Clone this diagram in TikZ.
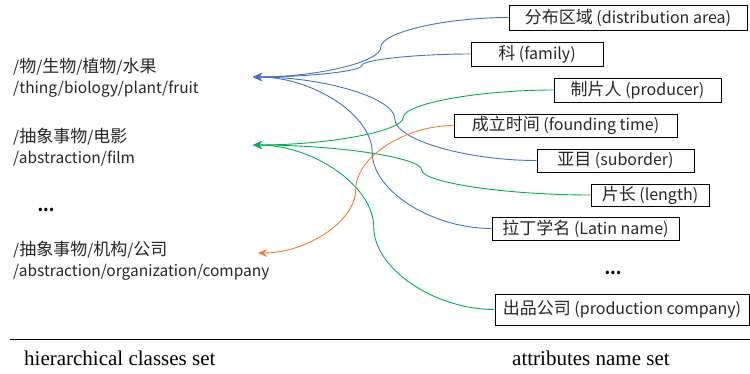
\documentclass[tikz,border=0pt]{standalone}
\usepackage{fontspec}
\newfontfamily\cjk{Noto Sans CJK SC}
\newfontfamily\capfont{Liberation Serif}
\newcommand\zh[1]{{\fontsize{17}{21}\selectfont #1}}
\usetikzlibrary{arrows.meta,calc}
\definecolor{cblue}{HTML}{4472C4}
\definecolor{cgreen}{HTML}{00B050}
\definecolor{corange}{HTML}{ED7D31}
\definecolor{txt}{HTML}{262626}
\begin{document}
\begin{tikzpicture}[x=1pt,y=-1pt,
  lbl/.style={font=\cjk\fontsize{15.5}{21}\selectfont, text=txt, align=left, anchor=west, inner sep=0pt},
  attr/.style={draw=black, line width=0.9pt, font=\cjk\fontsize{16}{18}\selectfont, text=txt, inner sep=0pt},
  dots/.style={font=\cjk\bfseries\fontsize{16}{18}\selectfont, text=black, inner sep=0pt},
  captxt/.style={font=\capfont\fontsize{21}{24}\selectfont, text=black, inner sep=0pt, anchor=base west},
  conn/.style={line width=0.9pt, -{Stealth[length=9pt,width=8pt]},
    to path={let \p1=(\tikztostart), \p2=(\tikztotarget) in
      .. controls ({(3*\x1+\x2)/4},\y1) and ({(\x1+\x2)/2},{(3*\y1+\y2)/4})
      .. ({(\x1+\x2)/2},{(\y1+\y2)/2})
      .. controls ({(\x1+\x2)/2},{(\y1+3*\y2)/4}) and ({(\x1+3*\x2)/4},\y2)
      .. (\tikztotarget) \tikztonodes}},
]
\useasboundingbox (0,0) rectangle (750,373);

% left classes
\node[lbl] (c1) at (13,78) {/\zh{物}/\zh{生物}/\zh{植物}/\zh{水果}\\/thing/biology/plant/fruit};
\node[lbl] (c2) at (13,147) {/\zh{抽象事物}/\zh{电影}\\/abstraction/film};
\node[dots] (d1) at (46,210) {...};
\node[lbl] (c3) at (13,261) {/\zh{抽象事物}/\zh{机构}/\zh{公司}\\/abstraction/organization/company};

\coordinate (tA) at (253,77);
\coordinate (tB) at (253,145);
\coordinate (tC) at (258,253);

% attribute boxes
\node[attr, minimum width=238pt, minimum height=25pt] (b1) at (628,17.5) {\zh{分布区域} (distribution area)};
\node[attr, minimum width=132pt, minimum height=24pt] (b2) at (537,54) {\zh{科} (family)};
\node[attr, minimum width=167pt, minimum height=24pt] (b3) at (637.5,90) {\zh{制片人} (producer)};
\node[attr, minimum width=223pt, minimum height=23pt] (b4) at (565.5,125.5) {\zh{成立时间} (founding time)};
\node[attr, minimum width=157pt, minimum height=23pt] (b5) at (615.5,160.5) {\zh{亚目} (suborder)};
\node[attr, minimum width=118pt, minimum height=22pt] (b6) at (650,195) {\zh{片长} (length)};
\node[attr, minimum width=187pt, minimum height=23pt] (b7) at (585.5,228.5) {\zh{拉丁学名} (Latin name)};
\node[dots] (d2) at (613,273) {...};
\node[attr, minimum width=254pt, minimum height=31pt] (b8) at (622,309.5) {\zh{出品公司} (production company)};

% connectors
\draw[conn, cblue] (b1.west) to (tA);
\draw[conn, cblue] (b2.west) to (tA);
\draw[conn, cblue] (b5.west) to (tA);
\draw[conn, cblue] (b7.west) to (tA);
\draw[conn, cgreen] (b3.west) to (tB);
\draw[conn, cgreen] (b6.west) to (tB);
\draw[conn, cgreen] (b8.west) to (tB);
\draw[conn, corange] (b4.west) to (tC);

% baseline and captions
\coordinate (l1) at (10,339);
\coordinate (l2) at (750,339);
\draw[line width=0.9pt] (l1) -- (l2);
\node[captxt] (cap1) at (24,365) {hierarchical classes set};
\node[captxt] (cap2) at (512,365) {attributes name set};
\end{tikzpicture}
\end{document}
